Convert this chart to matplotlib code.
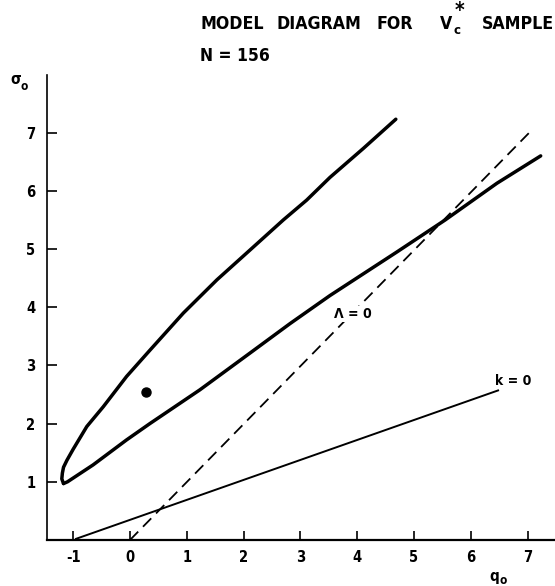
import matplotlib
matplotlib.use("Agg")
import matplotlib.pyplot as plt

# ---------------- data ----------------
# contour (upper branch, starting at the tip)
upper_q = [-1.17, -1.20, -1.19, -1.17, -1.11, -1.00, -0.76, -0.47, -0.06, 0.35, 0.94, 1.53, 2.11, 2.70, 3.11, 3.52, 4.11, 4.68]
upper_s = [0.97, 1.05, 1.15, 1.25, 1.37, 1.56, 1.95, 2.29, 2.81, 3.26, 3.90, 4.47, 4.98, 5.50, 5.84, 6.23, 6.73, 7.23]
# contour (lower branch, starting at the tip)
lower_q = [-1.17, -1.10, -0.65, -0.06, 0.35, 1.23, 2.11, 2.82, 3.52, 4.70, 5.55, 6.46, 7.23]
lower_s = [0.97, 1.00, 1.29, 1.72, 2.00, 2.58, 3.21, 3.72, 4.20, 4.95, 5.50, 6.13, 6.60]
# Lambda = 0 line
lam_q = [0.0, 7.08]
lam_s = [0.0, 7.05]
# k = 0 line
k_q = [-0.95, 6.48]
k_s = [0.02, 2.57]
# best-fit point
pt_q = [0.29]
pt_s = [2.55]

x_ticks = [-1, 0, 1, 2, 3, 4, 5, 6, 7]
x_tick_labels = ["-1", "0", "1", "2", "3", "4", "5", "6", "7"]
y_ticks = [1, 2, 3, 4, 5, 6, 7]
y_tick_labels = ["1", "2", "3", "4", "5", "6", "7"]

title_words = ["MODEL", "DIAGRAM", "FOR", "V", "SAMPLE"]
subtitle = "N = 156"

plt.rcParams["font.family"] = ["DejaVu Sans"]
plt.rcParams["font.stretch"] = "condensed"

W, H = 555, 586
fig = plt.figure(figsize=(W / 100, H / 100), dpi=100)

def fx(px):
    return px / W

def fy(py):
    return 1 - py / H

ax_left, ax_right, ax_top, ax_bot = 46.7, 555.0, 75.0, 540.0
ax = fig.add_axes([fx(ax_left), fy(ax_bot), (ax_right - ax_left) / W, (ax_bot - ax_top) / H])
ax.set_xlim(-1.466, 7.482)
ax.set_ylim(0, 7.99)

for side in ["top", "right"]:
    ax.spines[side].set_visible(False)
ax.spines["left"].set_linewidth(1.2)
ax.spines["bottom"].set_linewidth(1.6)

ax.set_xticks(x_ticks)
ax.set_xticklabels(x_tick_labels)
ax.set_yticks(y_ticks)
ax.set_yticklabels(y_tick_labels)
ax.tick_params(axis="x", direction="in", length=6.5, width=1.2, pad=7.5,
               labelsize=10.5)
ax.tick_params(axis="y", direction="in", length=7.2, width=1.2, pad=8,
               labelsize=10.5)
for lab in ax.get_xticklabels() + ax.get_yticklabels():
    lab.set_fontweight("bold")

# curves
ax.plot(upper_q, upper_s, color="black", lw=2.5, solid_capstyle="round",
        solid_joinstyle="round")
ax.plot(lower_q, lower_s, color="black", lw=2.5, solid_capstyle="round",
        solid_joinstyle="round")
ax.plot(lam_q, lam_s, color="black", lw=1.3, dashes=(6.5, 3.8))
ax.plot(k_q, k_s, color="black", lw=1.4)
ax.plot(pt_q, pt_s, "o", color="black", ms=6.5)

# line labels
ax.text(3.93, 3.88, "\u039b = 0", fontsize=10, fontweight="bold",
        ha="center", va="center",
        bbox=dict(facecolor="white", edgecolor="none", pad=0.5))
ax.text(6.43, 2.74, "k = 0", fontsize=10, fontweight="bold",
        ha="left", va="center")

# axis labels
fig.text(fx(16), fy(80), "\u03c3", fontsize=11, fontweight="bold", ha="center", va="center")
fig.text(fx(24.5), fy(87), "o", fontsize=8.5, fontweight="bold", ha="center", va="center")
fig.text(fx(494), fy(576), "q", fontsize=11, fontweight="bold", ha="center", va="center")
fig.text(fx(503.5), fy(580), "o", fontsize=8.5, fontweight="bold", ha="center", va="center")

# title: words placed at their measured positions
title_x = [200, 277, 377, 440, 482]
for word, x in zip(title_words, title_x):
    fig.text(fx(x), fy(24), word, fontsize=12.7, fontweight="bold", ha="left", va="center")
fig.text(fx(453), fy(31), "c", fontsize=9.5, fontweight="bold", ha="left", va="center")
fig.text(fx(455), fy(11), "*", fontsize=15, fontweight="bold", ha="left", va="center")
fig.text(fx(200), fy(56), subtitle, fontsize=12.5, fontweight="bold", ha="left", va="center")

fig.savefig("out.png", dpi=100, facecolor="white")
